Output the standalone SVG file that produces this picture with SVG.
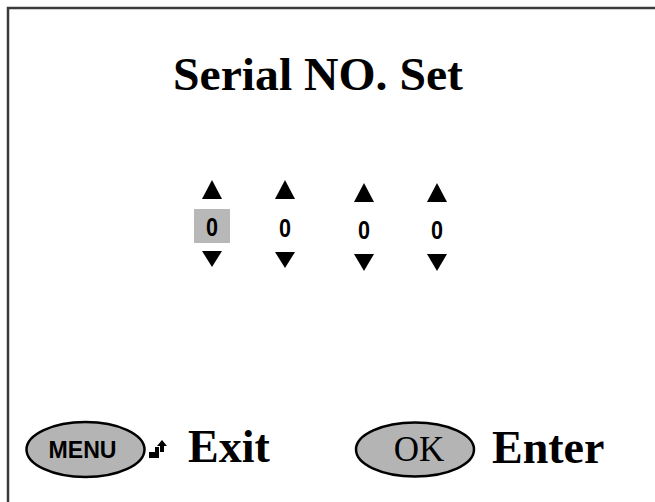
<svg xmlns="http://www.w3.org/2000/svg" width="655" height="502" viewBox="0 0 655 502">
<style>
.frame{fill:none;stroke:#3a3a3a;stroke-width:2.5}
.title{font-family:"Liberation Serif","Times New Roman",serif;font-weight:bold;fill:#000}
.digit{font-family:"Liberation Sans",Arial,sans-serif;font-weight:bold;font-size:26px;fill:#000;text-anchor:middle}
.tri{fill:#000}
.btn{fill:#b4b4b4;stroke:#000;stroke-width:2.5}
.lbl{font-family:"Liberation Serif","Times New Roman",serif;font-weight:bold;font-size:46px;fill:#000}
</style>
<rect width="655" height="502" fill="#fff"/>
<path class="frame" d="M8 503 V8 H656"/>
<g id="title"><text class="title" x="173" y="90" font-size="46" textLength="290" lengthAdjust="spacingAndGlyphs">Serial NO. Set</text></g>
<g id="digit1">
<rect x="194" y="209" width="36" height="34" fill="#b8b8b8"/>
<polygon class="tri" points="202,199 222,199 212,180"/>
<text class="digit" x="212" y="235.5" textLength="12" lengthAdjust="spacingAndGlyphs">0</text>
<polygon class="tri" points="202,251 222,251 212,267"/>
</g>
<g id="digit2">
<polygon class="tri" points="275,199 295,199 285,180"/>
<text class="digit" x="285" y="236.5" textLength="12" lengthAdjust="spacingAndGlyphs">0</text>
<polygon class="tri" points="275,252 295,252 285,268"/>
</g>
<g id="digit3">
<polygon class="tri" points="354,202 374,202 364,183"/>
<text class="digit" x="364" y="238.5" textLength="12" lengthAdjust="spacingAndGlyphs">0</text>
<polygon class="tri" points="354,254 374,254 364,271"/>
</g>
<g id="digit4">
<polygon class="tri" points="427,202 447,202 437,183"/>
<text class="digit" x="437" y="238.5" textLength="12" lengthAdjust="spacingAndGlyphs">0</text>
<polygon class="tri" points="427,254 447,254 437,271"/>
</g>
<g id="menu">
<ellipse class="btn" cx="85.5" cy="449.5" rx="59" ry="27.5"/>
<text x="82.5" y="458" font-family="'Liberation Sans',Arial,sans-serif" font-weight="bold" font-size="24" text-anchor="middle" textLength="68" lengthAdjust="spacingAndGlyphs">MENU</text>
<path d="M149 452 H155 V447 H159 V458 H149 Z" fill="#000"/>
<path d="M162 440 L167 446 H164 V452 H160 V446 H157 Z" fill="#000"/>
<text class="lbl" x="188" y="462">Exit</text>
</g>
<g id="ok">
<ellipse class="btn" cx="415" cy="449.5" rx="59" ry="27"/>
<text x="419" y="461" font-family="'Liberation Serif','Times New Roman',serif" font-size="35" text-anchor="middle">OK</text>
<text class="lbl" x="492" y="463">Enter</text>
</g>
</svg>
